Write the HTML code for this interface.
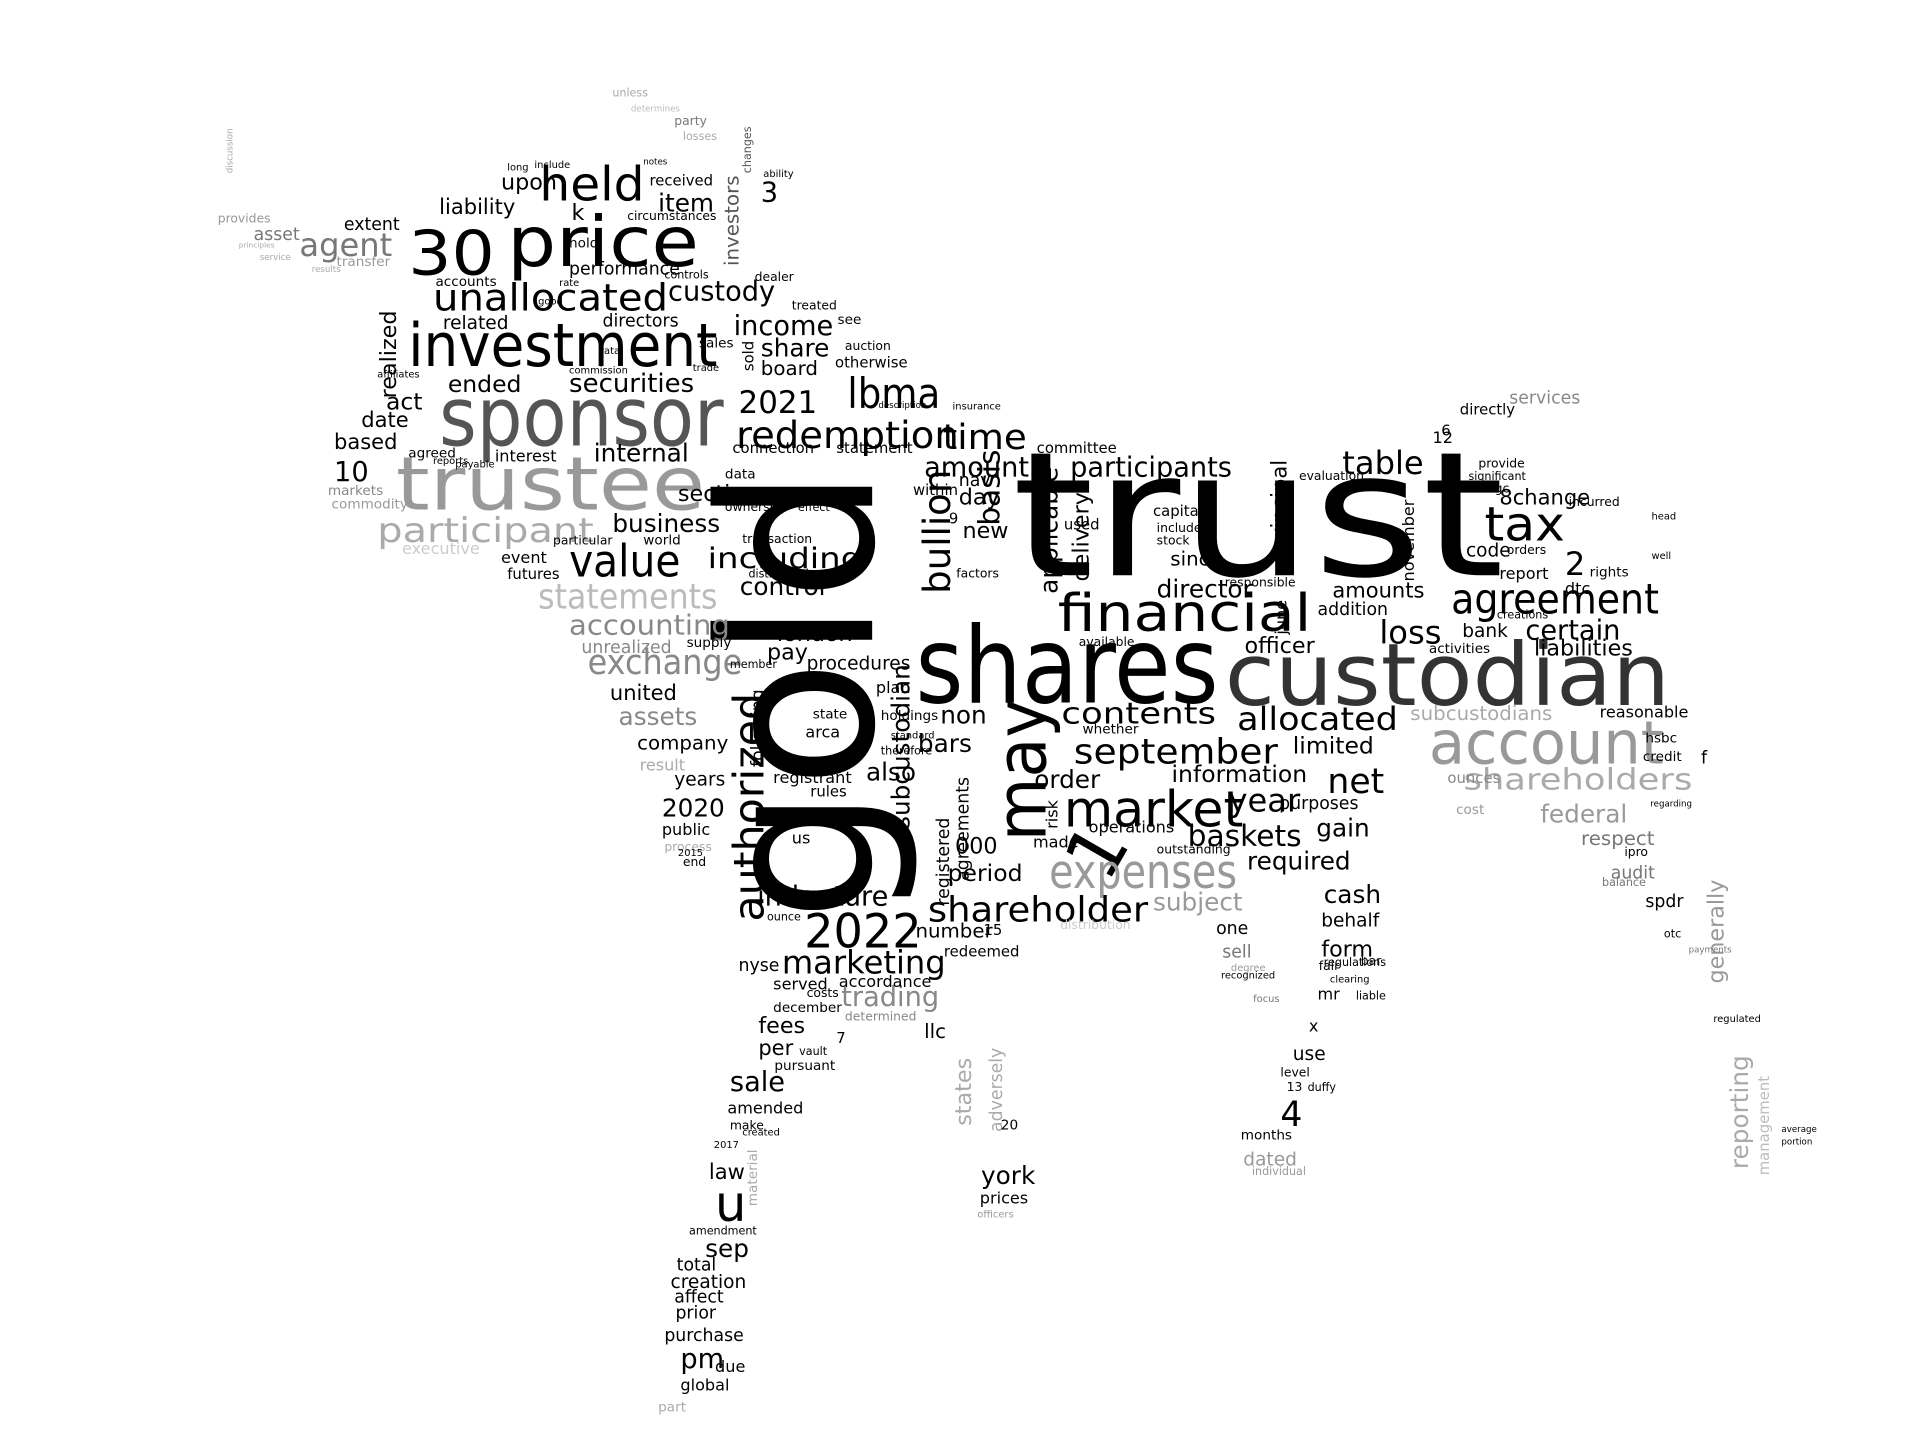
<!DOCTYPE html>
<html>
<head>
<meta charset="utf-8">
<style>
html,body{margin:0;padding:0;background:#fff;}
svg{display:block;}
text{font-family:"DejaVu Sans","Liberation Sans",sans-serif;}
</style>
</head>
<body>
<svg id="cloud" width="1920" height="1440" viewBox="0 0 1552 1164" xmlns="http://www.w3.org/2000/svg">
<rect x="0" y="0" width="1552" height="1164" fill="#fff"/>
</svg>
<script>
// word, x, baseline y, font size, color, rotation, forced width (0 = natural)
const words = [
["trust",818,465,140,"#000",0,398],
["gold",705,745,172,"#000",-90,367],
["shares",740,568,86,"#000",0,245],
["custodian",990,570,70,"#333",0,360],
["financial",855,510,42,"#000",0,205],
["account",1155,617,48,"#999",0,190],
["trustee",320,412,60,"#999",0,250],
["sponsor",355,360,66,"#555",0,230],
["investment",330,296,48,"#000",0,250],
["price",410,215,56,"#000",0,155],
["30",330,222,50,"#000",0,70],
["held",436,162,38,"#000",0,85],
["unallocated",350,251,30,"#000",0,190],
["may",845,680,56,"#000",-90,115],
["1",895,715,60,"#000",-60,0],
["market",860,668,40,"#000",0,145],
["expenses",848,718,38,"#999",0,152],
["shareholder",750,745,28,"#000",0,178],
["2022",650,766,38,"#000",0,95],
["authorized",617,745,34,"#000",-90,185],
["tax",1200,437,38,"#000",0,65],
["agreement",1173,496,34,"#000",0,168],
["redemption",595,362,30,"#000",0,180],
["lbma",685,330,34,"#000",0,75],
["time",762,363,28,"#000",0,68],
["participant",305,438,27,"#aaa",0,175],
["statements",435,492,28,"#bbb",0,145],
["value",460,466,36,"#000",0,90],
["including",572,459,23,"#000",0,125],
["exchange",475,545,28,"#888",0,125],
["accounting",460,513,22,"#888",0,130],
["contents",858,585,24,"#000",0,125],
["september",868,617,28,"#000",0,165],
["allocated",1000,590,26,"#000",0,130],
["shareholders",1183,638,24,"#aaa",0,185],
["upon",405,153,18,"#000",0,0],
["item",532,171,20,"#000",0,0],
["received",525,150,12,"#000",0,0],
["3",615,163,22,"#000",0,0],
["investors",597,215,16,"#555",-90,0],
["liability",355,173,17,"#000",0,0],
["k",462,178,18,"#000",0,0],
["extent",278,186,14,"#000",0,0],
["agent",242,207,26,"#777",0,0],
["asset",205,194,14,"#777",0,0],
["provides",176,180,10,"#999",0,0],
["transfer",272,215,11,"#999",0,0],
["performance",460,222,14,"#000",0,0],
["custody",540,243,22,"#000",0,0],
["accounts",352,231,11,"#000",0,0],
["directors",487,264,14,"#000",0,0],
["related",358,266,15,"#000",0,0],
["income",593,271,22,"#000",0,0],
["share",615,288,20,"#000",0,0],
["realized",320,322,18,"#000",-90,0],
["board",615,303,16,"#000",0,0],
["securities",460,317,21,"#000",0,0],
["ended",362,317,19,"#000",0,0],
["act",312,331,19,"#000",0,0],
["2021",597,334,25,"#000",0,0],
["date",292,345,17,"#000",0,0],
["based",270,363,17,"#000",0,0],
["agreed",330,370,11,"#000",0,0],
["interest",400,373,13,"#000",0,0],
["internal",480,373,20,"#000",0,0],
["10",270,389,22,"#000",0,0],
["amount",747,385,22,"#000",0,0],
["section",548,405,18,"#000",0,0],
["business",495,430,20,"#000",0,0],
["executive",325,448,13,"#ccc",0,0],
["control",598,481,20,"#000",0,0],
["unrealized",470,528,14,"#888",0,0],
["united",493,566,17,"#000",0,0],
["assets",500,586,20,"#888",0,0],
["company",515,606,16,"#000",0,0],
["result",517,623,13,"#aaa",0,0],
["years",545,635,15,"#000",0,0],
["2020",535,660,20,"#000",0,0],
["public",535,675,13,"#000",0,0],
["process",537,688,10,"#aaa",0,0],
["end",552,700,10,"#000",0,0],
["london",628,518,18,"#000",0,0],
["pay",620,533,18,"#000",0,0],
["procedures",652,541,15,"#000",0,0],
["following",617,620,14,"#000",-90,0],
["registrant",625,633,13,"#000",0,0],
["rules",655,644,12,"#000",0,0],
["indenture",612,732,22,"#000",0,0],
["marketing",632,787,26,"#000",0,0],
["number",740,758,16,"#000",0,0],
["15",795,756,12,"#000",0,0],
["trading",680,813,22,"#888",0,0],
["served",625,800,13,"#000",0,0],
["accordance",678,798,13,"#000",0,0],
["fees",613,835,18,"#000",0,0],
["per",613,853,17,"#000",0,0],
["7",676,843,12,"#000",0,0],
["llc",747,839,16,"#000",0,0],
["pursuant",626,865,11,"#000",0,0],
["sale",590,882,22,"#000",0,0],
["amended",588,900,13,"#000",0,0],
["make",590,913,10,"#000",0,0],
["law",573,953,17,"#000",0,0],
["u",578,987,40,"#000",0,0],
["sep",570,1016,20,"#000",0,0],
["total",547,1027,14,"#000",0,0],
["creation",542,1041,15,"#000",0,0],
["affect",545,1053,14,"#000",0,0],
["prior",546,1066,14,"#000",0,0],
["purchase",537,1084,14,"#000",0,0],
["pm",550,1106,22,"#000",0,0],
["due",578,1109,13,"#000",0,0],
["global",550,1124,13,"#000",0,0],
["part",532,1141,11,"#aaa",0,0],
["material",612,975,11,"#aaa",-90,0],
["states",785,910,18,"#aaa",-90,0],
["adversely",810,915,14,"#aaa",-90,0],
["york",793,957,20,"#000",0,0],
["prices",792,973,13,"#000",0,0],
["20",809,913,11,"#000",0,0],
["bullion",768,480,30,"#000",-90,0],
["basis",808,425,24,"#000",-90,0],
["subcustodian",735,670,20,"#000",-90,0],
["day",775,408,18,"#000",0,0],
["new",778,435,18,"#000",0,0],
["applicable",855,480,20,"#000",-90,0],
["delivery",880,470,18,"#000",-90,0],
["nav",775,393,14,"#000",0,0],
["non",760,585,20,"#000",0,0],
["bars",742,608,20,"#000",0,0],
["also",700,631,20,"#000",0,0],
["agreements",783,712,14,"#000",-90,0],
["registered",767,732,14,"#000",-90,0],
["9",767,423,12,"#000",0,0],
["000",772,690,18,"#000",0,0],
["period",766,712,19,"#000",0,0],
["participants",865,385,22,"#000",0,0],
["committee",838,366,12,"#000",0,0],
["order",836,637,20,"#000",0,0],
["made",835,685,13,"#000",0,0],
["subject",932,736,20,"#999",0,0],
["baskets",960,684,24,"#000",0,0],
["year",993,656,26,"#000",0,0],
["information",947,632,19,"#000",0,0],
["required",1008,703,20,"#000",0,0],
["limited",1045,609,19,"#000",0,0],
["net",1073,641,28,"#000",0,0],
["gain",1064,676,20,"#000",0,0],
["purposes",1034,654,14,"#000",0,0],
["director",935,483,20,"#000",0,0],
["since",946,457,16,"#000",0,0],
["officer",1006,528,18,"#000",0,0],
["amounts",1077,483,17,"#000",0,0],
["addition",1065,497,14,"#000",0,0],
["loss",1115,520,26,"#000",0,0],
["cash",1070,730,20,"#000",0,0],
["behalf",1068,749,15,"#000",0,0],
["form",1068,773,18,"#000",0,0],
["mr",1065,808,13,"#000",0,0],
["x",1058,834,13,"#000",0,0],
["use",1045,857,15,"#000",0,0],
["4",1035,910,28,"#000",0,0],
["months",1003,921,11,"#000",0,0],
["dated",1005,942,15,"#999",0,0],
["one",983,755,14,"#000",0,0],
["sell",988,774,14,"#777",0,0],
["table",1085,383,26,"#000",0,0],
["certain",1233,517,22,"#000",0,0],
["liabilities",1240,530,18,"#000",0,0],
["2",1265,465,26,"#000",0,0],
["8change",1212,408,17,"#000",0,0],
["code",1185,450,15,"#000",0,0],
["report",1212,468,13,"#000",0,0],
["bank",1182,515,15,"#000",0,0],
["principal",1040,445,17,"#000",-90,0],
["november",1143,470,13,"#000",-90,0],
["june",1040,513,13,"#000",-90,0],
["subcustodians",1140,582,16,"#aaa",0,0],
["reasonable",1293,580,13,"#000",0,0],
["federal",1245,665,20,"#999",0,0],
["respect",1278,683,16,"#777",0,0],
["audit",1302,710,14,"#777",0,0],
["spdr",1330,733,14,"#000",0,0],
["generally",1393,795,18,"#999",-90,0],
["reporting",1413,945,20,"#aaa",-90,0],
["management",1430,950,12,"#bbb",-90,0],
["ounces",1170,633,12,"#888",0,0],
["cost",1177,658,11,"#999",0,0],
["services",1220,326,14,"#888",0,0],
["6",1165,352,12,"#000",0,0],
["12",1158,358,13,"#000",0,0],
["directly",1180,335,12,"#000",0,0],
["provide",1195,378,10,"#000",0,0],
["significant",1187,388,9,"#000",0,0],
["dtc",1265,480,13,"#000",0,0],
["incurred",1268,409,10,"#000",0,0],
["rights",1285,466,11,"#000",0,0],
["credit",1328,615,11,"#000",0,0],
["hsbc",1330,600,11,"#000",0,0],
["f",1375,617,14,"#000",0,0],
["capital",932,417,12,"#000",0,0],
["stock",935,440,10,"#000",0,0],
["evaluation",1050,388,10,"#000",0,0],
["arca",651,596,13,"#000",0,0],
["state",657,581,11,"#000",0,0],
["us",640,682,13,"#000",0,0],
["markets",265,400,11,"#888",0,0],
["commodity",268,411,11,"#999",0,0],
["event",405,455,13,"#000",0,0],
["futures",410,468,12,"#000",0,0],
["world",520,440,11,"#000",0,0],
["particular",447,440,10,"#000",0,0],
["demand",650,405,13,"#000",0,0],
["data",586,387,11,"#000",0,0],
["statement",676,366,12,"#000",0,0],
["connection",592,366,12,"#000",0,0],
["see",677,262,11,"#000",0,0],
["otherwise",675,297,12,"#000",0,0],
["auction",683,283,10,"#000",0,0],
["sold",609,300,12,"#000",-90,0],
["sales",565,281,11,"#000",0,0],
["treated",640,250,10,"#000",0,0],
["dealer",610,227,10,"#000",0,0],
["circumstances",507,178,10,"#000",0,0],
["hold",460,200,11,"#000",0,0],
["head",1335,420,8,"#000",0,0],
["well",1335,452,8,"#000",0,0],
["regulated",1385,826,8,"#000",0,0],
["average",1440,915,7,"#000",0,0],
["portion",1440,925,7,"#000",0,0],
["payments",1365,770,7,"#777",0,0],
["otc",1345,758,9,"#000",0,0],
["balance",1295,716,9,"#777",0,0],
["bar",1100,780,10,"#000",0,0],
["fair",1066,784,10,"#000",0,0],
["level",1035,870,10,"#000",0,0],
["13",1040,882,10,"#000",0,0],
["duffy",1057,882,9,"#000",0,0],
["clearing",1075,794,8,"#000",0,0],
["liable",1096,808,9,"#000",0,0],
["regulations",1070,781,9,"#000",0,0],
["recognized",987,791,8,"#000",0,0],
["responsible",990,474,10,"#000",0,0],
["whether",875,593,11,"#000",0,0],
["operations",880,673,13,"#000",0,0],
["outstanding",935,690,10,"#000",0,0],
["risk",855,670,13,"#000",-90,0],
["factors",773,467,10,"#000",0,0],
["within",738,400,12,"#000",0,0],
["used",860,428,12,"#000",0,0],
["included",935,430,10,"#000",0,0],
["available",872,522,10,"#000",0,0],
["holdings",712,582,11,"#000",0,0],
["plan",708,560,13,"#000",0,0],
["therefore",712,610,9,"#000",0,0],
["standard",720,597,8,"#000",0,0],
["ownership",586,413,10,"#000",0,0],
["transaction",600,439,10,"#000",0,0],
["effect",645,413,9,"#000",0,0],
["distributed",605,467,9,"#000",0,0],
["supply",555,523,11,"#000",0,0],
["member",590,540,9,"#000",0,0],
["nyse",597,785,14,"#000",0,0],
["december",625,818,11,"#000",0,0],
["costs",652,806,10,"#000",0,0],
["determined",683,825,10,"#888",0,0],
["ounce",620,744,9,"#000",0,0],
["vault",646,853,9,"#000",0,0],
["redeemed",763,773,12,"#000",0,0],
["distribution",857,751,10,"#ccc",0,0],
["degree",995,785,8,"#999",0,0],
["focus",1013,810,8,"#777",0,0],
["individual",1012,950,9,"#999",0,0],
["officers",790,984,8,"#999",0,0],
["2017",577,928,8,"#000",0,0],
["created",600,918,8,"#000",0,0],
["amendment",557,998,9,"#000",0,0],
["2015",548,692,8,"#000",0,0],
["regarding",1334,652,7,"#000",0,0],
["ipro",1313,692,10,"#000",0,0],
["wgc",1200,398,10,"#000",0,0],
["orders",1218,448,10,"#000",0,0],
["creations",1210,500,9,"#000",0,0],
["activities",1155,528,11,"#000",0,0],
["determines",510,90,7,"#bbb",0,0],
["unless",495,78,9,"#aaa",0,0],
["party",545,101,10,"#777",0,0],
["losses",552,113,9,"#aaa",0,0],
["changes",607,140,9,"#555",-90,0],
["ability",617,143,8,"#000",0,0],
["include",432,136,8,"#000",0,0],
["notes",520,133,7,"#000",0,0],
["long",410,138,8,"#000",0,0],
["controls",537,225,9,"#000",0,0],
["rate",452,231,8,"#000",0,0],
["good",435,246,8,"#000",0,0],
["payable",368,378,8,"#000",0,0],
["reports",350,375,8,"#000",0,0],
["affiliates",305,305,8,"#000",0,0],
["commission",460,302,8,"#000",0,0],
["rata",485,286,8,"#000",0,0],
["trade",560,300,8,"#000",0,0],
["description",710,330,7,"#000",0,0],
["insurance",770,331,8,"#000",0,0],
["discussion",188,140,7,"#aaa",-90,0],
["principles",193,200,6,"#aaa",0,0],
["service",210,210,7,"#aaa",0,0],
["results",252,220,7,"#aaa",0,0]
];
const svg = document.getElementById('cloud');
const NS = 'http://www.w3.org/2000/svg';
for (const w of words) {
  const t = document.createElementNS(NS, 'text');
  
  
  t.setAttribute('x', w[1]);
  t.setAttribute('y', w[2]);
  t.setAttribute('font-size', w[3]);
  t.setAttribute('fill', w[4]);
  if (w[5] !== 0) t.setAttribute('transform', 'rotate(' + w[5] + ' ' + w[1] + ' ' + w[2] + ')');
  if (w[6] > 0) { t.setAttribute('textLength', w[6]); t.setAttribute('lengthAdjust', 'spacingAndGlyphs'); }
  t.textContent = w[0];
  svg.appendChild(t);
}
</script>
</body>
</html>
